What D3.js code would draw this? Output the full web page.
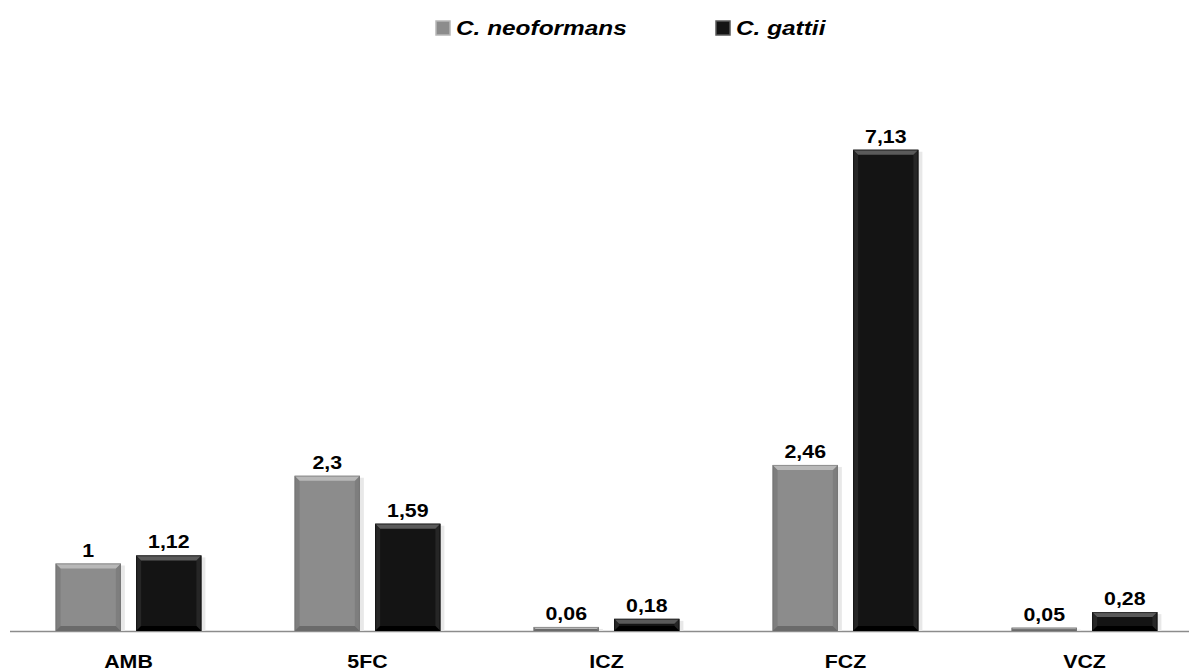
<!DOCTYPE html>
<html>
<head>
<meta charset="utf-8">
<script src="https://cdn.jsdelivr.net/npm/d3@7"></script>
<style>
  body { margin: 0; background: #fff; }
  svg text { font-family: "Liberation Sans", Arial, sans-serif; font-weight: bold; fill: #000; }
</style>
</head>
<body>
<svg id="chart"></svg>
<script>
'use strict';

// chart data
var categories = ['AMB', '5FC', 'ICZ', 'FCZ', 'VCZ'];
var seriesNames = ['C. neoformans', 'C. gattii'];
var neoformans = [1, 2.3, 0.06, 2.46, 0.05];
var gattii = [1.12, 1.59, 0.18, 7.13, 0.28];

var width = 1189, height = 671;
var baseline = 631;
var stretch = 1.22; // text in the original is widened horizontally

var colors = {
  'C. neoformans': { face: '#8c8c8c', light: '#b8b8b8', dark: '#6a6a6a', side: '#7e7e7e' },
  'C. gattii': { face: '#141414', light: '#5a5a5a', dark: '#000000', side: '#262626' }
};

var svg = d3.select('#chart')
  .attr('width', width)
  .attr('height', height);

// x/y scales
var x0 = d3.scaleBand()
  .domain(categories)
  .range([9, 1204])
  .paddingInner(0.39)
  .paddingOuter(0.195);

var x1 = d3.scaleBand()
  .domain(seriesNames)
  .range([0, x0.bandwidth()])
  .paddingInner(0.19);

var y = d3.scaleLinear()
  .domain([0, 8])
  .range([baseline, baseline - 540]);

var rows = [];
categories.forEach(function(c, i) {
  rows.push({ cat: c, series: seriesNames[0], value: neoformans[i] });
  rows.push({ cat: c, series: seriesNames[1], value: gattii[i] });
});

// baseline
svg.append('line')
  .attr('x1', 10).attr('x2', width)
  .attr('y1', baseline + 0.5).attr('y2', baseline + 0.5)
  .attr('stroke', '#8c8c8c')
  .attr('stroke-width', 1.5);

// bars with bevel
var bars = svg.append('g').attr('class', 'bars')
  .selectAll('g').data(rows)
  .enter().append('g')
  .attr('transform', function(d) { return 'translate(' + (x0(d.cat) + x1(d.series)) + ',0)'; });

bars.each(function(d) {
  var g = d3.select(this);
  var w = x1.bandwidth();
  var top = y(d.value), h = baseline - top;
  var c = colors[d.series];
  var b = Math.min(5, h / 2);

  // soft shadow
  g.append('rect')
    .attr('x', 2).attr('y', top + 2)
    .attr('width', w + 2).attr('height', h - 2)
    .attr('fill', '#e8e8e8');

  g.append('rect')
    .attr('x', 0).attr('y', top)
    .attr('width', w).attr('height', h)
    .attr('fill', c.face);

  // bevel edges
  var pts = {
    top: [[0, top], [w, top], [w - b, top + b], [b, top + b]],
    bottom: [[0, baseline], [w, baseline], [w - b, baseline - b], [b, baseline - b]],
    left: [[0, top], [b, top + b], [b, baseline - b], [0, baseline]],
    right: [[w, top], [w - b, top + b], [w - b, baseline - b], [w, baseline]]
  };
  g.append('polygon').attr('points', pts.left.join(' ')).attr('fill', c.side);
  g.append('polygon').attr('points', pts.right.join(' ')).attr('fill', c.side);
  g.append('polygon').attr('points', pts.top.join(' ')).attr('fill', c.light);
  g.append('polygon').attr('points', pts.bottom.join(' ')).attr('fill', c.dark);
  g.append('rect')
    .attr('x', 0.5).attr('y', top + 0.5)
    .attr('width', w - 1).attr('height', Math.max(h - 1, 0))
    .attr('fill', 'none')
    .attr('stroke', c.dark)
    .attr('stroke-opacity', 0.5);
});

// value labels
svg.append('g').attr('class', 'labels')
  .selectAll('text').data(rows)
  .enter().append('text')
  .attr('text-anchor', 'middle')
  .attr('font-size', 17.5)
  .attr('transform', function(d) {
    var cx = x0(d.cat) + x1(d.series) + x1.bandwidth() / 2;
    return 'translate(' + cx + ',' + (y(d.value) - 7) + ') scale(' + stretch + ',1)';
  })
  .text(function(d) { return String(d.value).replace('.', ','); });

// category axis labels
svg.append('g').attr('class', 'x-axis')
  .selectAll('text').data(categories)
  .enter().append('text')
  .attr('text-anchor', 'middle')
  .attr('font-size', 17.5)
  .attr('transform', function(c) {
    return 'translate(' + (x0(c) + x0.bandwidth() / 2) + ',668) scale(' + stretch + ',1)';
  })
  .text(function(c) { return c; });

// legend
var legendX = [436, 716];
var legend = svg.append('g').attr('class', 'legend')
  .selectAll('g').data(seriesNames)
  .enter().append('g')
  .attr('transform', function(d, i) { return 'translate(' + legendX[i] + ',0)'; });

legend.append('rect')
  .attr('x', 0).attr('y', 21)
  .attr('width', 14).attr('height', 14)
  .attr('fill', function(d) { return colors[d].face; })
  .attr('stroke', function(d) { return colors[d].light; })
  .attr('stroke-width', 1.5);

legend.append('text')
  .attr('font-size', 20)
  .attr('font-style', 'italic')
  .attr('transform', 'translate(20,35) scale(' + stretch + ',1)')
  .text(function(d) { return d; });
</script>
</body>
</html>
